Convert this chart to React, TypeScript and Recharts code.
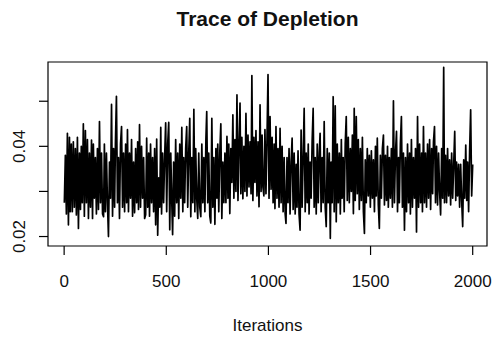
import React from 'react';
import { LineChart, Line, XAxis, YAxis, ReferenceArea } from 'recharts';

// thinned MCMC trace (about one value per pixel column)
const depletion: number[] = [
  0.0275, 0.0380, 0.0250, 0.0429, 0.0226, 0.0420, 0.0255, 0.0405, 0.0255, 0.0410, 0.0265, 0.0395, 0.0248, 0.0420, 0.0218, 0.0385, 0.0260, 0.0400, 0.0275, 0.0450,
  0.0245, 0.0435, 0.0275, 0.0415, 0.0240, 0.0385, 0.0265, 0.0414, 0.0240, 0.0405, 0.0285, 0.0375, 0.0250, 0.0395, 0.0260, 0.0455, 0.0275, 0.0385, 0.0250, 0.0244,
  0.0405, 0.0255, 0.0385, 0.0275, 0.0200, 0.0365, 0.0285, 0.0493, 0.0245, 0.0395, 0.0265, 0.0405, 0.0511, 0.0275, 0.0375, 0.0240, 0.0405, 0.0444, 0.0265, 0.0385,
  0.0255, 0.0405, 0.0275, 0.0437, 0.0255, 0.0385, 0.0285, 0.0415, 0.0245, 0.0365, 0.0253, 0.0395, 0.0275, 0.0410, 0.0260, 0.0448, 0.0265, 0.0400, 0.0285, 0.0375,
  0.0240, 0.0248, 0.0418, 0.0265, 0.0385, 0.0245, 0.0405, 0.0275, 0.0375, 0.0255, 0.0395, 0.0226, 0.0416, 0.0203, 0.0330, 0.0265, 0.0442, 0.0250, 0.0385, 0.0275,
  0.0375, 0.0452, 0.0255, 0.0405, 0.0453, 0.0215, 0.0385, 0.0275, 0.0204, 0.0365, 0.0245, 0.0415, 0.0275, 0.0385, 0.0240, 0.0405, 0.0285, 0.0442, 0.0255, 0.0375,
  0.0275, 0.0395, 0.0444, 0.0265, 0.0385, 0.0462, 0.0244, 0.0375, 0.0275, 0.0482, 0.0255, 0.0395, 0.0285, 0.0240, 0.0385, 0.0265, 0.0244, 0.0405, 0.0275, 0.0375,
  0.0255, 0.0415, 0.0477, 0.0275, 0.0385, 0.0245, 0.0230, 0.0462, 0.0265, 0.0375, 0.0227, 0.0395, 0.0285, 0.0405, 0.0255, 0.0385, 0.0450, 0.0240, 0.0365, 0.0275,
  0.0385, 0.0275, 0.0422, 0.0285, 0.0405, 0.0251, 0.0395, 0.0320, 0.0470, 0.0285, 0.0415, 0.0300, 0.0514, 0.0280, 0.0405, 0.0496, 0.0295, 0.0420, 0.0284, 0.0400,
  0.0300, 0.0473, 0.0290, 0.0425, 0.0310, 0.0410, 0.0295, 0.0557, 0.0280, 0.0420, 0.0320, 0.0435, 0.0290, 0.0410, 0.0266, 0.0492, 0.0300, 0.0425, 0.0310, 0.0290,
  0.0437, 0.0295, 0.0415, 0.0559, 0.0285, 0.0466, 0.0305, 0.0420, 0.0275, 0.0405, 0.0262, 0.0444, 0.0285, 0.0395, 0.0265, 0.0440, 0.0275, 0.0400, 0.0255, 0.0375,
  0.0250, 0.0229, 0.0375, 0.0275, 0.0395, 0.0250, 0.0365, 0.0418, 0.0260, 0.0385, 0.0250, 0.0360, 0.0265, 0.0390, 0.0250, 0.0214, 0.0436, 0.0265, 0.0375, 0.0484,
  0.0255, 0.0385, 0.0275, 0.0405, 0.0250, 0.0365, 0.0285, 0.0410, 0.0484, 0.0265, 0.0375, 0.0250, 0.0405, 0.0275, 0.0385, 0.0429, 0.0255, 0.0375, 0.0275, 0.0455,
  0.0265, 0.0222, 0.0395, 0.0275, 0.0385, 0.0196, 0.0365, 0.0275, 0.0510, 0.0255, 0.0490, 0.0233, 0.0405, 0.0275, 0.0385, 0.0250, 0.0415, 0.0285, 0.0375, 0.0255,
  0.0405, 0.0466, 0.0280, 0.0420, 0.0275, 0.0395, 0.0300, 0.0425, 0.0251, 0.0484, 0.0280, 0.0466, 0.0295, 0.0415, 0.0260, 0.0395, 0.0280, 0.0420, 0.0255, 0.0207,
  0.0370, 0.0275, 0.0395, 0.0290, 0.0380, 0.0265, 0.0390, 0.0285, 0.0370, 0.0255, 0.0400, 0.0290, 0.0418, 0.0270, 0.0218, 0.0380, 0.0285, 0.0395, 0.0425, 0.0270,
  0.0380, 0.0280, 0.0400, 0.0265, 0.0375, 0.0285, 0.0395, 0.0265, 0.0501, 0.0275, 0.0385, 0.0433, 0.0255, 0.0375, 0.0275, 0.0405, 0.0466, 0.0265, 0.0385, 0.0214,
  0.0375, 0.0255, 0.0405, 0.0275, 0.0385, 0.0250, 0.0415, 0.0265, 0.0375, 0.0285, 0.0395, 0.0210, 0.0466, 0.0265, 0.0405, 0.0275, 0.0385, 0.0255, 0.0444, 0.0275,
  0.0385, 0.0265, 0.0405, 0.0285, 0.0415, 0.0260, 0.0395, 0.0295, 0.0410, 0.0444, 0.0275, 0.0400, 0.0270, 0.0385, 0.0300, 0.0248, 0.0395, 0.0285, 0.0575, 0.0275,
  0.0380, 0.0275, 0.0395, 0.0290, 0.0370, 0.0270, 0.0385, 0.0285, 0.0360, 0.0433, 0.0280, 0.0365, 0.0290, 0.0360, 0.0265, 0.0360, 0.0280, 0.0222, 0.0370, 0.0285,
  0.0403, 0.0280, 0.0365, 0.0255, 0.0390, 0.0481, 0.0290, 0.0360,
];

const xTicks = [0, 500, 1000, 1500, 2000];
const yTicks = [0.02, 0.03, 0.04, 0.05];
const yLabels: Record<string, string> = { '0.02': '0.02', '0.04': '0.04' };

const nIter = 2000;
const xDomain = [-79, 2070];
const yDomain = [0.0179, 0.0587];

// spread the thinned samples over iterations 1..2000
const data = depletion.map((v, i) => ({
  iter: Math.round(1 + (i * (nIter - 1)) / (depletion.length - 1)),
  value: v,
}));

const font = '"Liberation Sans", Arial, Helvetica, sans-serif';

const YTick = (props: any) => {
  const { x, y, payload } = props;
  const label = yLabels[String(payload.value)];
  if (!label) return null;
  return (
    <text
      x={0}
      y={0}
      transform={`translate(${x}, ${y}) rotate(-90)`}
      textAnchor="middle"
      fontSize={17}
      fontFamily={font}
      fill="#111"
    >
      {label}
    </text>
  );
};

const App: React.FC = () => {
  return (
    <div style={{ position: 'absolute', left: 0, top: 0, width: 493, height: 339, background: '#fff', fontFamily: font }}>
      <div
        style={{
          position: 'absolute', left: 48, top: 8, width: 439, textAlign: 'center',
          fontSize: 21, lineHeight: '21px', fontWeight: 'bold', color: '#111',
        }}
      >
        Trace of Depletion
      </div>
      <LineChart width={493} height={339} data={data} margin={{ top: 62, right: 6, bottom: 53, left: 0 }}>
        <XAxis
          dataKey="iter"
          type="number"
          domain={xDomain}
          ticks={xTicks}
          allowDataOverflow
          axisLine={false}
          tickLine={{ stroke: '#000', strokeWidth: 1.2 }}
          tickSize={9}
          tickMargin={20}
          height={40}
          interval={0}
          tick={{ fontSize: 17, fill: '#111', fontFamily: font }}
        />
        <YAxis
          type="number"
          domain={yDomain}
          ticks={yTicks}
          allowDataOverflow
          axisLine={false}
          tickLine={{ stroke: '#000', strokeWidth: 1.2 }}
          tickSize={9}
          tickMargin={14}
          width={48}
          interval={0}
          tick={<YTick />}
        />
        <Line
          type="linear"
          dataKey="value"
          stroke="#000"
          strokeWidth={1.7}
          strokeLinejoin="round"
          dot={false}
          isAnimationActive={false}
        />
        <ReferenceArea
          x1={xDomain[0]}
          x2={xDomain[1]}
          y1={yDomain[0]}
          y2={yDomain[1]}
          fill="none"
          stroke="#000"
          strokeWidth={1.2}
          ifOverflow="visible"
        />
      </LineChart>
      <div
        style={{
          position: 'absolute', left: 48, top: 317, width: 439, textAlign: 'center',
          fontSize: 17, lineHeight: '17px', color: '#111',
        }}
      >
        Iterations
      </div>
    </div>
  );
};

export default App;
